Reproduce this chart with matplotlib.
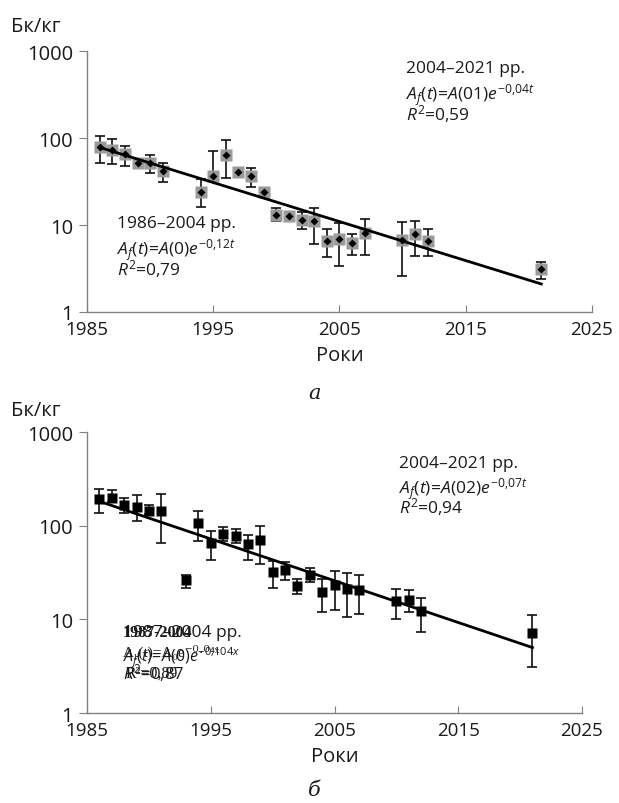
import numpy as np
import matplotlib.pyplot as plt

plt.rcParams['font.family'] = ['Open Sans', 'DejaVu Sans']
plt.rcParams['mathtext.fontset'] = 'custom'
plt.rcParams['mathtext.rm'] = 'Open Sans'
plt.rcParams['mathtext.it'] = 'Open Sans:italic'

# ── panel a: data ─────────────────────────────
years_a = [1986, 1987, 1988, 1989, 1990, 1991, 1994, 1995, 1996, 1997, 1998,
           1999, 2000, 2001, 2002, 2003, 2004, 2005, 2006, 2007, 2010, 2011,
           2012, 2021]
vals_a = [79, 73, 65, 51, 52, 42, 24, 37, 64, 41, 37,
          24, 13, 12.7, 11.5, 11, 6.5, 6.9, 6.2, 8.2, 6.8, 7.8,
          6.6, 3.1]
lo_a = [52, 50, 48, 48, 40, 31, 16, 35, 35, 40, 27,
        22, 11.2, 11.5, 9, 6.1, 4.3, 3.4, 4.5, 4.5, 2.6, 4.4,
        4.4, 2.4]
hi_a = [106, 97, 82, 54, 64, 51, 34, 71, 96, 42, 45,
        26, 15.5, 14, 14, 15.6, 8.9, 10.5, 7.8, 11.7, 10.7, 11.2,
        8.9, 3.8]
fit_years_a = [1986, 2021]
fit_vals_a = [78, 2.1]

# ── panel b: data ─────────────────────────────
years_b = [1986, 1987, 1988, 1989, 1990, 1991, 1993, 1994, 1995, 1996, 1997,
           1998, 1999, 2000, 2001, 2002, 2003, 2004, 2005, 2006, 2007, 2010,
           2011, 2012, 2021]
vals_b = [192, 200, 166, 160, 143, 143, 26, 107, 66, 82, 77,
          63, 70, 32, 34, 22.6, 30, 19.7, 23, 21, 20.7, 15.8,
          16.2, 12.3, 7.1]
lo_b = [135, 180, 135, 111, 132, 65, 21.6, 69, 43, 69, 65,
        43, 39, 21.6, 26, 18.6, 24.8, 12, 12.6, 10.5, 11.5, 10,
        11.9, 7.4, 3.1]
hi_b = [246, 241, 199, 213, 166, 217, 30, 143, 87, 97, 92,
        79, 100, 42, 41, 27, 35.5, 27, 33, 31, 29.7, 21,
        20.4, 16.9, 11.1]
fit_years_b = [1986, 2021]
fit_vals_b = [182, 5.0]

x_ticks = [1985, 1995, 2005, 2015, 2025]
y_ticks = [1, 10, 100, 1000]

AXIS_COLOR = '#808080'
TXT = '#1a1a1a'


def style_axis(ax):
    ax.set_yscale('log')
    ax.set_xlim(1985, 2025)
    ax.set_ylim(1, 1000)
    ax.set_xticks(x_ticks)
    ax.set_xticklabels([str(t) for t in x_ticks])
    ax.set_yticks(y_ticks)
    ax.set_yticklabels([str(t) for t in y_ticks])
    ax.minorticks_off()
    for side in ('top', 'right'):
        ax.spines[side].set_visible(False)
    for side in ('left', 'bottom'):
        ax.spines[side].set_color(AXIS_COLOR)
        ax.spines[side].set_linewidth(1.0)
    ax.tick_params(axis='x', direction='in', length=5, color=AXIS_COLOR,
                   labelsize=13.5, labelcolor=TXT, pad=6)
    ax.tick_params(axis='y', direction='out', length=6, color=AXIS_COLOR,
                   labelsize=14.5, labelcolor=TXT, pad=4)
    ax.set_xlabel('Роки', fontsize=14.5, color=TXT, labelpad=5)


def errs(vals, lo, hi):
    v = np.array(vals, dtype=float)
    return [v - np.array(lo), np.array(hi) - v]


fig = plt.figure(figsize=(6.19, 8.04), dpi=100)
ax1 = fig.add_axes([0.1406, 0.6107, 0.8154, 0.3246])
ax2 = fig.add_axes([0.1406, 0.1119, 0.7996, 0.3495])

# ── panel a ───────────────────────────────────
ax1.errorbar(years_a, vals_a, yerr=errs(vals_a, lo_a, hi_a), fmt='none',
             ecolor='#111111', elinewidth=1.2, capsize=3.5, capthick=1.2, zorder=2)
ax1.plot(years_a, vals_a, 's', ms=8, color='#9a9a9a', mec='none', zorder=3)
ax1.plot(years_a, vals_a, 'D', ms=4.5, color='#000000', mec='none', zorder=4)
ax1.plot(fit_years_a, fit_vals_a, '-', color='#000000', lw=2, zorder=5)
style_axis(ax1)

ax1.text(0.632, 0.965, '2004–2021 рр.', transform=ax1.transAxes,
         fontsize=12.5, color=TXT, va='top')
ax1.text(0.632, 0.885, r'$A_f(t)\!=\!A(01)e^{-0{,}04t}$', transform=ax1.transAxes,
         fontsize=12.5, color=TXT, va='top')
ax1.text(0.632, 0.805, r'$R^2$=0,59', transform=ax1.transAxes,
         fontsize=12.5, color=TXT, va='top')

ax1.text(0.059, 0.37, '1986–2004 рр.', transform=ax1.transAxes,
         fontsize=12.5, color=TXT, va='top')
ax1.text(0.059, 0.29, r'$A_f(t)\!=\!A(0)e^{-0{,}12t}$', transform=ax1.transAxes,
         fontsize=12.5, color=TXT, va='top')
ax1.text(0.059, 0.21, r'$R^2$=0,79', transform=ax1.transAxes,
         fontsize=12.5, color=TXT, va='top')

# ── panel b ───────────────────────────────────
ax2.errorbar(years_b, vals_b, yerr=errs(vals_b, lo_b, hi_b), fmt='none',
             ecolor='#111111', elinewidth=1.2, capsize=3.5, capthick=1.2, zorder=2)
ax2.plot(years_b, vals_b, 's', ms=6.5, color='#000000', mec='none', zorder=3)
ax2.plot(fit_years_b, fit_vals_b, '-', color='#000000', lw=2, zorder=4)
style_axis(ax2)

ax2.text(0.630, 0.92, '2004–2021 рр.', transform=ax2.transAxes,
         fontsize=12.5, color=TXT, va='top')
ax2.text(0.630, 0.847, r'$A_f(t)\!=\!A(02)e^{-0{,}07t}$', transform=ax2.transAxes,
         fontsize=12.5, color=TXT, va='top')
ax2.text(0.630, 0.774, r'$R^2$=0,94', transform=ax2.transAxes,
         fontsize=12.5, color=TXT, va='top')

# overlapping (garbled) labels, as printed in the original figure
ax2.text(0.073, 0.318, '1987–2004 рр.', transform=ax2.transAxes,
         fontsize=12.5, color=TXT, va='top')
ax2.text(0.073, 0.318, '1987-2004', transform=ax2.transAxes,
         fontsize=11.5, color=TXT, va='top', family='Liberation Serif', weight='bold')
ax2.text(0.073, 0.245, r'$A_f(t)\!=\!A(0)e^{-0{,}104x}$', transform=ax2.transAxes,
         fontsize=11.5, color=TXT, va='top')
ax2.text(0.073, 0.245, 'A₁(t)=A₀e⁻⁰·⁰⁴ˣ', transform=ax2.transAxes,
         fontsize=11, color=TXT, va='top', family=['Liberation Serif', 'DejaVu Serif'])
ax2.text(0.073, 0.185, r'$R^2$=0,87', transform=ax2.transAxes,
         fontsize=12, color=TXT, va='top')
ax2.text(0.078, 0.172, 'R²=0,89', transform=ax2.transAxes,
         fontsize=11.5, color=TXT, va='top', family=['Liberation Serif', 'DejaVu Serif'])

# ── figure labels ─────────────────────────────
fig.text(0.018, 0.967, 'Бк/кг', fontsize=14.5, color=TXT, va='center')
fig.text(0.018, 0.489, 'Бк/кг', fontsize=14.5, color=TXT, va='center')
fig.text(0.508, 0.511, 'а', fontsize=15, color=TXT, ha='center', va='center',
         family='DejaVu Serif', style='italic')
fig.text(0.508, 0.017, 'б', fontsize=15, color=TXT, ha='center', va='center',
         family='DejaVu Serif', style='italic')

fig.savefig('out.png', dpi=100)
